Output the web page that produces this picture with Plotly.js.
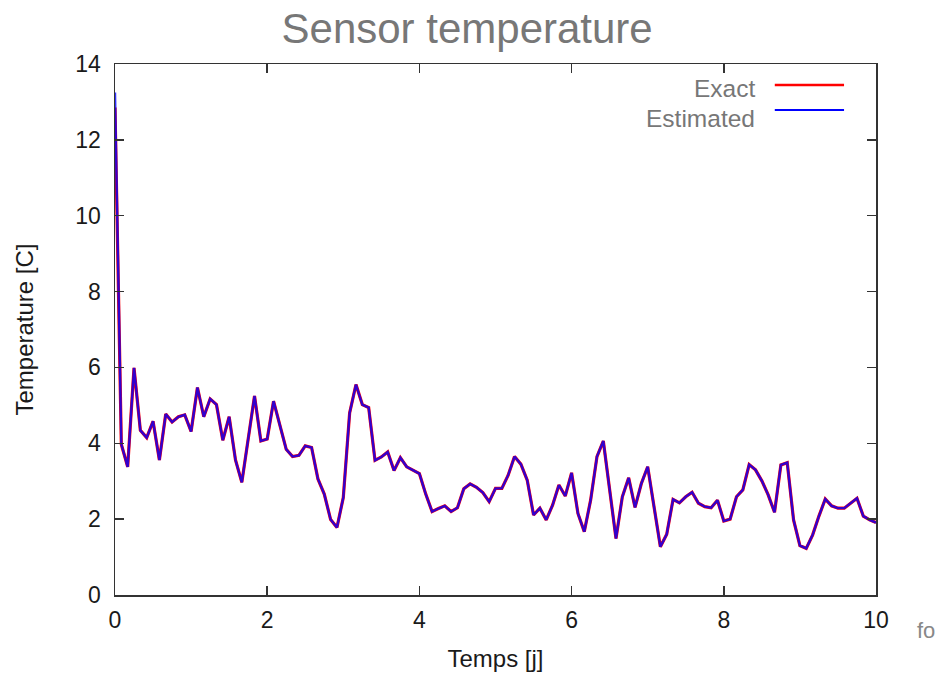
<!DOCTYPE html>
<html>
<head>
<meta charset="utf-8">
<script src="https://cdn.plot.ly/plotly-3.0.1.min.js"></script>
<style>
  html, body { margin: 0; padding: 0; background: #fff; }
  #chart { width: 938px; height: 673px; }
</style>
</head>
<body>
<div id="chart"></div>
<script>
// Time samples in hours (converted to days for the axis)
const hours = [0,2,4,6,8,10,12,14,16,18,20,22,24,26,28,30,32,34,36,38,40,42,44,46,48,50,52,54,56,58,
  60,62,64,66,68,70,72,74,76,78,80,82,84,86,88,90,92,94,96,98,100,102,104,106,108,110,112,114,116,118,
  120,122,124,126,128,130,132,134,136,138,140,142,144,146,148,150,152,154,156,158,160,162,164,166,168,170,172,174,176,178,
  180,182,184,186,188,190,192,194,196,198,200,202,204,206,208,210,212,214,216,218,220,222,224,226,228,230,232,234,236,238,240];

const exactTemp = [12.85,3.97,3.38,5.99,4.34,4.15,4.58,3.56,4.77,4.56,4.70,4.75,4.31,5.47,4.70,5.17,5.02,4.08,4.70,3.56,
  2.97,4.15,5.25,4.06,4.11,5.11,4.47,3.84,3.65,3.68,3.93,3.89,3.06,2.66,1.99,1.78,2.57,4.80,5.55,5.02,
  4.94,3.55,3.64,3.77,3.28,3.62,3.38,3.30,3.20,2.66,2.20,2.28,2.35,2.20,2.30,2.80,2.93,2.84,2.70,2.46,
  2.81,2.81,3.16,3.65,3.45,3.03,2.11,2.29,1.98,2.37,2.90,2.61,3.22,2.15,1.67,2.50,3.65,4.06,2.77,1.49,
  2.59,3.09,2.31,2.94,3.38,2.33,1.27,1.60,2.52,2.43,2.59,2.71,2.42,2.33,2.30,2.50,1.95,2.00,2.59,2.77,
  3.44,3.30,3.01,2.64,2.18,3.43,3.49,1.98,1.30,1.23,1.58,2.08,2.53,2.35,2.29,2.29,2.42,2.55,2.08,1.98,1.91];

const estimatedTemp = [13.25,3.97,3.38,5.99,4.34,4.15,4.58,3.56,4.77,4.56,4.70,4.75,4.31,5.47,4.70,5.17,5.02,4.08,4.70,3.56,
  2.97,4.15,5.25,4.06,4.11,5.11,4.47,3.84,3.65,3.68,3.93,3.89,3.06,2.66,1.99,1.78,2.57,4.80,5.55,5.02,
  4.94,3.55,3.64,3.77,3.28,3.62,3.38,3.30,3.20,2.66,2.20,2.28,2.35,2.20,2.30,2.80,2.93,2.84,2.70,2.46,
  2.81,2.81,3.16,3.65,3.45,3.03,2.11,2.29,1.98,2.37,2.90,2.61,3.22,2.15,1.67,2.50,3.65,4.06,2.77,1.49,
  2.59,3.09,2.31,2.94,3.38,2.33,1.27,1.60,2.52,2.43,2.59,2.71,2.42,2.33,2.30,2.50,1.95,2.00,2.59,2.77,
  3.44,3.30,3.01,2.64,2.18,3.43,3.49,1.98,1.30,1.23,1.58,2.08,2.53,2.35,2.29,2.29,2.42,2.55,2.08,1.98,1.91];

const seriesNames = ["Exact", "Estimated"];
const seriesColors = ["#ff0000", "#0000ff"];
const xTickVals = [0, 2, 4, 6, 8, 10];
const yTickVals = [0, 2, 4, 6, 8, 10, 12, 14];

const days = hours.map(h => h / 24);

const traces = [
  { x: days, y: exactTemp, type: "scatter", mode: "lines", name: seriesNames[0],
    line: { color: seriesColors[0], width: 3.2 }, showlegend: false, hoverinfo: "x+y" },
  { x: days, y: estimatedTemp, type: "scatter", mode: "lines", name: seriesNames[1],
    line: { color: seriesColors[1], width: 2.4 }, opacity: 0.8, showlegend: false, hoverinfo: "x+y" }
];

const fontFam = "Liberation Sans, Arial, sans-serif";
const axisCommon = {
  showgrid: false, zeroline: false, showline: true, linecolor: "#333", linewidth: 1.5,
  mirror: "ticks", ticks: "inside", ticklen: 9, tickwidth: 1.5, tickcolor: "#333",
  tickfont: { family: fontFam, size: 23, color: "#1a1a1a" }, tickmode: "array"
};

const layout = {
  width: 938, height: 673,
  margin: { l: 115, r: 62, t: 64, b: 78 },
  paper_bgcolor: "#fff", plot_bgcolor: "#fff",
  title: { text: "Sensor temperature", x: 0.498, xref: "container", xanchor: "center",
           y: 0.958, yref: "container", yanchor: "middle",
           font: { family: fontFam, size: 42, color: "#777" } },
  xaxis: Object.assign({}, axisCommon, {
    range: [0, 10], tickvals: xTickVals, ticktext: xTickVals.map(String),
    ticklabelstandoff: 4,
    title: { text: "Temps [j]", standoff: 18, font: { family: fontFam, size: 24, color: "#1a1a1a" } }
  }),
  yaxis: Object.assign({}, axisCommon, {
    range: [0, 14], tickvals: yTickVals, ticktext: yTickVals.map(String),
    ticklabelstandoff: 8,
    title: { text: "Temperature [C]", standoff: 35, font: { family: fontFam, size: 24, color: "#1a1a1a" } }
  }),
  showlegend: false,
  annotations: [
    { text: seriesNames[0], xref: "paper", yref: "paper", x: 0.8436, y: 0.9548, xanchor: "right", yanchor: "middle",
      showarrow: false, font: { family: fontFam, size: 24.5, color: "#777" } },
    { text: seriesNames[1], xref: "paper", yref: "paper", x: 0.8436, y: 0.8983, xanchor: "right", yanchor: "middle",
      showarrow: false, font: { family: fontFam, size: 24.5, color: "#777" } },
    { text: "fo", xref: "paper", yref: "paper", x: 1.0805, y: -0.066, xanchor: "right", yanchor: "middle",
      showarrow: false, font: { family: fontFam, size: 22, color: "#888" } }
  ],
  shapes: [
    { type: "line", xref: "paper", yref: "paper", x0: 0.867, x1: 0.958, y0: 0.9605, y1: 0.9605,
      line: { color: seriesColors[0], width: 2.5 } },
    { type: "line", xref: "paper", yref: "paper", x0: 0.867, x1: 0.958, y0: 0.9134, y1: 0.9134,
      line: { color: seriesColors[1], width: 2 } }
  ]
};

Plotly.newPlot("chart", traces, layout, { displayModeBar: false, staticPlot: true });
</script>
</body>
</html>
